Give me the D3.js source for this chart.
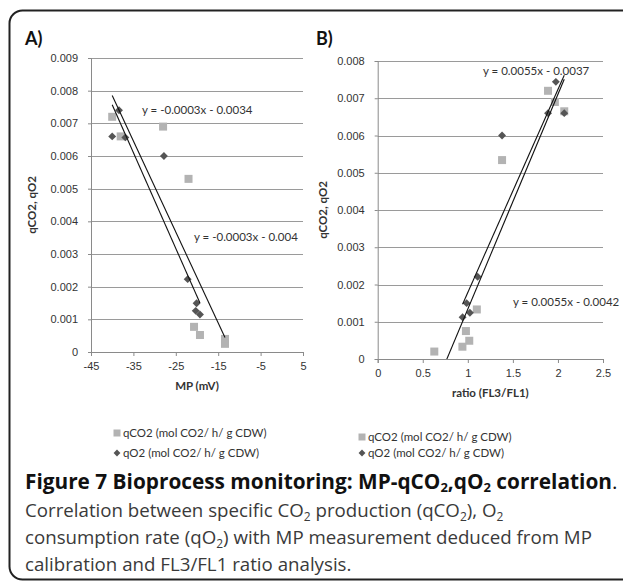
<!DOCTYPE html>
<html lang="en">
<head>
<meta charset="UTF-8">
<title>Figure 7</title>
<script src="https://cdnjs.cloudflare.com/ajax/libs/d3/7.8.5/d3.min.js"></script>
<style>
  body { margin: 0; background: #fff; }
  svg { display: block; }
</style>
</head>
<body>
<svg id="fig" width="623" height="581"></svg>
<script>
// panel A : MP (mV) vs specific rates
var mpCO2  = [-40, -38, -28, -22, -20.7, -19.3, -13.4, -13.4];
var qCO2A  = [0.0072, 0.0066, 0.0069, 0.0053, 0.00077, 0.00052, 0.0004, 0.00025];
var mpO2   = [-38.4, -40, -36.9, -27.8, -22.2, -20.1, -20.3, -19.3];
var qO2A   = [0.0074, 0.0066, 0.00657, 0.0060, 0.00223, 0.00149, 0.00126, 0.00115];

// panel B : FL3/FL1 ratio vs specific rates
var ratioCO2 = [1.89, 1.966, 2.07, 1.38, 1.10, 0.979, 1.016, 0.94, 0.628];
var qCO2B    = [0.0072, 0.0069, 0.00665, 0.00534, 0.00133, 0.00075, 0.00049, 0.00033, 0.0002];
var ratioO2  = [1.977, 1.89, 2.07, 1.38, 1.109, 0.987, 0.942, 1.023];
var qO2B     = [0.00744, 0.0066, 0.0066, 0.0060, 0.00221, 0.0015, 0.00112, 0.00124];

var ticksXA = [-45, -35, -25, -15, -5, 5];
var ticksYA = [0, 0.001, 0.002, 0.003, 0.004, 0.005, 0.006, 0.007, 0.008, 0.009];
var ticksXB = [0, 0.5, 1, 1.5, 2, 2.5];
var ticksYB = [0, 0.001, 0.002, 0.003, 0.004, 0.005, 0.006, 0.007, 0.008];

var eqA = ["y = -0.0003x - 0.0034", "y = -0.0003x - 0.004"];
var eqB = ["y = 0.0055x - 0.0037", "y = 0.0055x - 0.0042"];
var legendLabels = ["qCO2 (mol CO2/ h/ g CDW)", "qO2 (mol CO2/ h/ g CDW)"];

var chartFont = "Lato, 'Liberation Sans', sans-serif";
var sqColor = "#b3b3b3", dmColor = "#555555";

var svg = d3.select("#fig");

// frame, right edge runs off the page
svg.append("rect")
  .attr("x", 9.5).attr("y", 10.5)
  .attr("width", 660).attr("height", 569)
  .attr("rx", 13)
  .attr("fill", "none").attr("stroke", "#222").attr("stroke-width", 2);

function fit(xs, ys) {
  var mx = d3.mean(xs), my = d3.mean(ys);
  var sxy = d3.sum(xs, (x, i) => (x - mx) * (ys[i] - my));
  var sxx = d3.sum(xs, x => (x - mx) * (x - mx));
  var m = sxy / sxx;
  return {m: m, b: my - m * mx, x0: d3.min(xs), x1: d3.max(xs)};
}

function panel(o) {
  var g = svg.append("g").style("font-family", chartFont);
  var x = d3.scaleLinear().domain(o.xDom).range(o.xRange);
  var y = d3.scaleLinear().domain(o.yDom).range(o.yRange);

  // gridlines
  g.append("g").selectAll("line").data(o.yTicks.slice(1)).join("line")
    .attr("x1", o.xRange[0]).attr("x2", o.xRange[1])
    .attr("y1", d => Math.round(y(d)) + 0.5).attr("y2", d => Math.round(y(d)) + 0.5)
    .attr("stroke", "#9a9a9a");

  var yAxis = g.append("g")
    .attr("transform", "translate(" + o.xRange[0] + ",0)")
    .call(d3.axisLeft(y).tickValues(o.yTicks).tickSize(3).tickPadding(10)
      .tickFormat(d => d === 0 ? "0" : d3.format(".3f")(d)));
  var xAxis = g.append("g")
    .attr("transform", "translate(0," + o.yRange[0] + ")")
    .call(d3.axisBottom(x).tickValues(o.xTicks).tickSize(4).tickPadding(6)
      .tickFormat(d => String(d)));
  [xAxis, yAxis].forEach(a => {
    a.selectAll("path, line").attr("stroke", "#8a8a8a");
    a.selectAll("text").style("font-size", "11px").attr("fill", "#333");
  });

  // markers
  g.append("g").selectAll("rect").data(o.xs1).join("rect")
    .attr("x", (d, i) => x(d) - 4).attr("y", (d, i) => y(o.ys1[i]) - 4)
    .attr("width", 8).attr("height", 8).attr("fill", sqColor);
  var dia = d3.symbol().type(d3.symbolDiamond2).size(40);
  g.append("g").selectAll("path").data(o.xs2).join("path")
    .attr("d", dia)
    .attr("transform", (d, i) => "translate(" + x(d) + "," + y(o.ys2[i]) + ")")
    .attr("fill", dmColor);

  // trendlines, clipped to the plot area
  var cid = "clip" + o.id;
  svg.append("clipPath").attr("id", cid).append("rect")
    .attr("x", o.xRange[0]).attr("y", o.yRange[1])
    .attr("width", o.xRange[1] - o.xRange[0]).attr("height", o.yRange[0] - o.yRange[1]);
  [fit(o.xs1, o.ys1), fit(o.xs2, o.ys2)].forEach(f => {
    g.append("line")
      .attr("clip-path", "url(#" + cid + ")")
      .attr("x1", x(f.x0)).attr("y1", y(f.m * f.x0 + f.b))
      .attr("x2", x(f.x1)).attr("y2", y(f.m * f.x1 + f.b))
      .attr("stroke", "#111").attr("stroke-width", 1.1);
  });

  // equations
  o.eq.forEach((t, i) => {
    g.append("text").attr("x", o.eqPos[i][0]).attr("y", o.eqPos[i][1])
      .style("font-size", "11.5px").attr("fill", "#333").text(t);
  });

  // titles
  g.append("text").attr("x", o.panelPos[0]).attr("y", o.panelPos[1])
    .style("font-size", "18px").style("font-weight", "bold").attr("fill", "#111")
    .text(o.label);
  g.append("text")
    .attr("x", (o.xRange[0] + o.xRange[1]) / 2).attr("y", o.yRange[0] + 38)
    .attr("text-anchor", "middle").style("font-size", "11.5px").style("font-weight", "bold")
    .attr("fill", "#333").text(o.xTitle);
  g.append("text")
    .attr("transform", "translate(" + o.yTitleX + "," + (o.yRange[0] + o.yRange[1]) / 2 + ") rotate(-90)")
    .attr("text-anchor", "middle").style("font-size", "11.5px").style("font-weight", "bold")
    .attr("fill", "#333").text("qCO2, qO2");

  // legend
  var lg = g.append("g").attr("transform", "translate(" + o.legPos[0] + "," + o.legPos[1] + ")");
  lg.append("rect").attr("x", -3.5).attr("y", -3.5).attr("width", 7).attr("height", 7).attr("fill", sqColor);
  lg.append("path").attr("d", d3.symbol().type(d3.symbolDiamond2).size(30))
    .attr("transform", "translate(0," + o.legGap + ")").attr("fill", dmColor);
  legendLabels.forEach((t, i) => {
    lg.append("text").attr("x", 6).attr("y", i * o.legGap + 4)
      .style("font-size", "11.5px").attr("fill", "#333").text(t);
  });
}

panel({
  id: "A", label: "A)", panelPos: [25, 45],
  xDom: [-45, 5], xRange: [91, 303], yDom: [0, 0.009], yRange: [352, 58],
  xTicks: ticksXA, yTicks: ticksYA,
  xs1: mpCO2, ys1: qCO2A, xs2: mpO2, ys2: qO2A,
  eq: eqA, eqPos: [[142, 114], [194, 241]],
  xTitle: "MP (mV)", yTitleX: 36,
  legPos: [117, 433], legGap: 20
});

panel({
  id: "B", label: "B)", panelPos: [316, 45],
  xDom: [0, 2.5], xRange: [377.7, 603], yDom: [0, 0.008], yRange: [359, 61],
  xTicks: ticksXB, yTicks: ticksYB,
  xs1: ratioCO2, ys1: qCO2B, xs2: ratioO2, ys2: qO2B,
  eq: eqB, eqPos: [[483, 75], [513, 306]],
  xTitle: "ratio (FL3/FL1)", yTitleX: 327,
  legPos: [362, 437], legGap: 16
});

// caption
var cap = svg.append("g").style("font-family", "'Open Sans', 'Noto Sans', sans-serif");
var t1 = cap.append("text").attr("x", 25).attr("y", 489)
  .style("font-size", "20.8px").style("font-weight", "bold").attr("fill", "#111");
t1.append("tspan").text("Figure 7 Bioprocess monitoring: MP-qCO");
t1.append("tspan").attr("dy", 3).style("font-size", "13px").text("2");
t1.append("tspan").attr("dy", -3).text(",qO");
t1.append("tspan").attr("dy", 3).style("font-size", "13px").text("2");
t1.append("tspan").attr("dy", -3).text(" correlation");
t1.append("tspan").style("font-weight", "normal").text(".");

var capLines = [
  [["Correlation between specific CO", 0], ["2", 1], [" production (qCO", 0], ["2", 1], ["), O", 0], ["2", 1]],
  [["consumption rate (qO", 0], ["2", 1], [") with MP measurement deduced from MP", 0]],
  [["calibration and FL3/FL1 ratio analysis.", 0]]
];
capLines.forEach((parts, li) => {
  var t = cap.append("text").attr("x", 25).attr("y", 517 + li * 27)
    .style("font-size", "18.7px").attr("fill", "#3a3a3a");
  var prev = 0;
  parts.forEach(p => {
    var s = t.append("tspan").text(p[0]);
    if (p[1] !== prev) s.attr("dy", p[1] ? 4 : -4);
    if (p[1]) s.style("font-size", "12px");
    prev = p[1];
  });
});
</script>
</body>
</html>
